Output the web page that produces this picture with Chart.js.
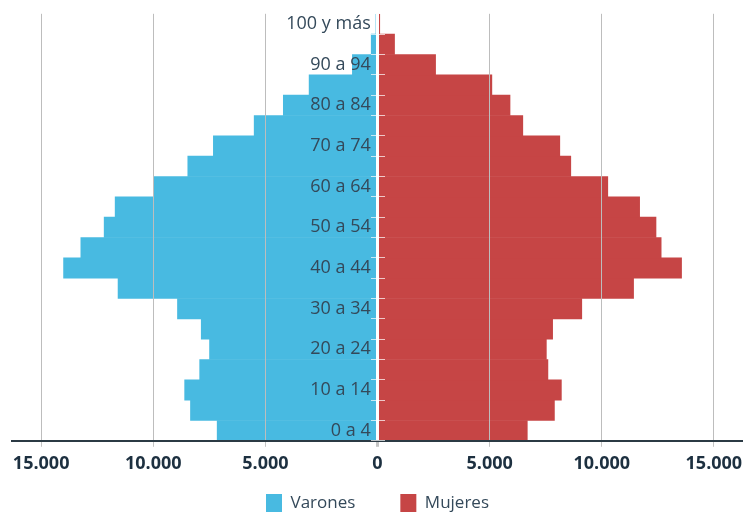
<!DOCTYPE html>
<html lang="es">
<head>
<meta charset="utf-8">
<title>Pirámide de población</title>
<script src="https://cdn.jsdelivr.net/npm/chart.js@4/dist/chart.umd.min.js"></script>
<style>
    html, body { margin: 0; padding: 0; background: #ffffff; }
    #wrap { width: 743px; height: 513px; position: relative; }
</style>
</head>
<body>
<div id="wrap"><canvas id="pyramidChart"></canvas></div>
<script>
// ========== DATA ==========
const ageGroups = [
    '0 a 4', '5 a 9', '10 a 14', '15 a 19', '20 a 24', '25 a 29', '30 a 34',
    '35 a 39', '40 a 44', '45 a 49', '50 a 54', '55 a 59', '60 a 64', '65 a 69',
    '70 a 74', '75 a 79', '80 a 84', '85 a 89', '90 a 94', '95 a 99', '100 y más'
];
const varones = [7150, 8340, 8600, 7930, 7490, 7860, 8920, 11570, 14000, 13230, 12190,
                 11700, 9990, 8460, 7320, 5500, 4200, 3050, 1120, 280, 70];
const mujeres = [6680, 7890, 8200, 7600, 7530, 7810, 9110, 11420, 13560, 12650, 12420,
                 11690, 10270, 8620, 8130, 6480, 5910, 5100, 2590, 760, 100];
const xTicks = [-15000, -10000, -5000, 0, 5000, 10000, 15000];

const FONT = '"Open Sans", "DejaVu Sans", sans-serif';

function fmtThousands(v) {
    // 15000 -> "15.000"
    return String(Math.abs(v)).replace(/\B(?=(\d{3})+(?!\d))/g, '.');
}

// the legend uses a wide item gap (padding), so pull its box up
// by hand instead of letting it eat the plot height
const legendShift = {
    id: 'legendShift',
    afterLayout(chart) {
        const lg = chart.legend;
        if (!lg) return;
        lg.top = chart.height - 64;
        lg.bottom = chart.height;
    }
};

// ========== CHART ==========
function createPyramid() {
    const ctx = document.getElementById('pyramidChart');
    if (!ctx) return;

    new Chart(ctx, {
        type: 'bar',
        data: {
            labels: ageGroups,
            datasets: [{
                label: 'Varones',
                data: varones.map(v => -v),
                backgroundColor: '#48bae1',
                borderWidth: 0,
                barPercentage: 1,
                categoryPercentage: 1
            }, {
                label: 'Mujeres',
                data: mujeres,
                backgroundColor: '#c64545',
                borderWidth: 0,
                barPercentage: 1,
                categoryPercentage: 1
            }]
        },
        options: {
            indexAxis: 'y',
            responsive: true,
            maintainAspectRatio: false,
            animation: false,
            layout: { padding: { top: 13, left: 12, right: 0, bottom: 0 } },
            scales: {
                x: {
                    stacked: true,
                    min: -16300,
                    max: 16300,
                    afterBuildTicks: scale => {
                        scale.ticks = xTicks.map(v => ({ value: v }));
                    },
                    grid: {
                        z: 1,
                        color: c => (c.tick && c.tick.value === 0) ? '#ffffff' : '#bdbdbd',
                        lineWidth: c => (c.tick && c.tick.value === 0) ? 3 : 1,
                        tickLength: 6,
                        tickColor: '#c4c4c4'
                    },
                    border: { z: 1, color: '#2b3a44', width: 2 },
                    ticks: {
                        z: 1,
                        padding: 0,
                        color: '#1d3040',
                        font: { family: FONT, size: 18, weight: 'bold', lineHeight: 1.9 },
                        callback: v => v === 0 ? '0' : fmtThousands(v)
                    }
                },
                y: {
                    stacked: true,
                    reverse: true,
                    position: { x: -300 },
                    border: { display: false },
                    grid: {
                        z: 1,
                        drawOnChartArea: false,
                        tickLength: -14,
                        tickColor: 'rgba(255,255,255,0.7)'
                    },
                    ticks: {
                        z: 1,
                        autoSkip: false,
                        color: '#34495a',
                        font: { family: FONT, size: 18 },
                        callback: function(value) {
                            return value % 2 === 0 ? this.getLabelForValue(value) : '';
                        }
                    }
                }
            },
            plugins: {
                tooltip: { enabled: false },
                legend: {
                    position: 'bottom',
                    maxHeight: 32,
                    labels: {
                        boxWidth: 16,
                        boxHeight: 18,
                        padding: 45,
                        color: '#34495a',
                        font: { family: FONT, size: 17 }
                    }
                }
            }
        },
        plugins: [legendShift]
    });
}

createPyramid();
</script>
</body>
</html>
